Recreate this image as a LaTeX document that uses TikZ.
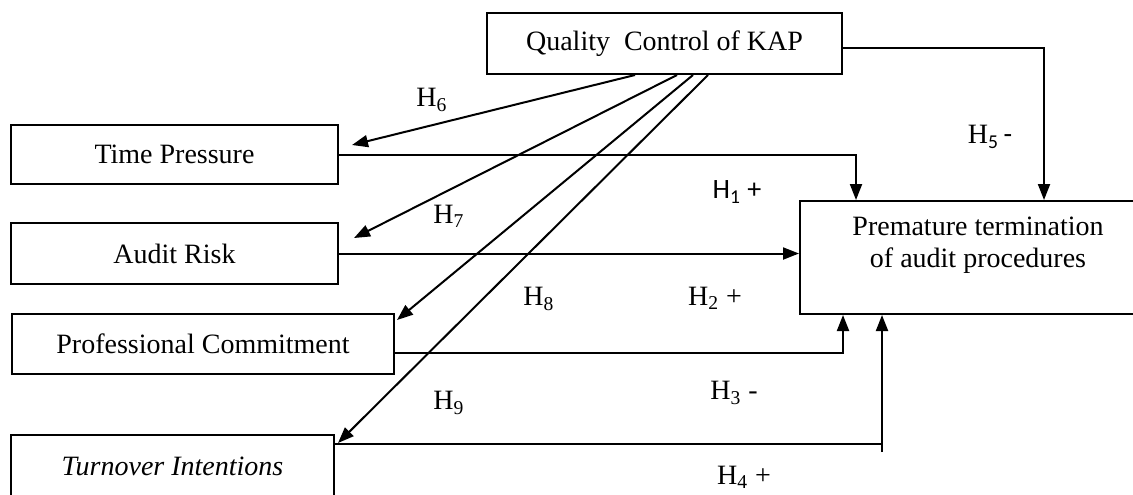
\documentclass[tikz,border=0pt]{standalone}
\usepackage{fontspec}
\setmainfont{Liberation Serif}
\newfontfamily\calibri{Carlito}
\usetikzlibrary{arrows.meta,positioning}

\begin{document}
\begin{tikzpicture}[x=0.5pt,y=-0.5pt,font=\fontsize{14}{16}\selectfont,
  box/.style={draw,line width=1pt,anchor=north west,inner sep=0pt},
  arr/.style={-{Triangle[length=8pt,width=6pt]},line width=1pt},
  lnk/.style={line width=1pt}]
\useasboundingbox (0,0) rectangle (1133,494);
% boxes
\node[box,minimum width=177.5pt,minimum height=30.5pt] (qc) at (486,12) {Quality\ \ Control of KAP};
\node[box,minimum width=163.5pt,minimum height=29.5pt] (tp) at (10,124) {Time Pressure};
\node[box,minimum width=163.5pt,minimum height=30.5pt] (ar) at (10,222) {Audit Risk};
\node[box,minimum width=191pt,minimum height=30pt] (pc) at (11,313) {Professional Commitment};
\node[box,minimum width=161.5pt,minimum height=31.5pt] (ti) at (10,434) {\textit{Turnover Intentions}};
\node[box,minimum width=178pt,minimum height=56.5pt] (pt) at (799,200) {};
\node[align=center] (ptlabel) at ([yshift=6pt]pt.center) {Premature termination\\of audit procedures};
% moderating paths
\draw[arr] ([xshift=74.5pt]qc.south west) -- ([xshift=6.5pt,yshift=-10.5pt]tp.north east);
\draw[arr] ([xshift=95.5pt]qc.south west) -- ([xshift=7.5pt,yshift=-8pt]ar.north east);
\draw[arr] ([xshift=103.5pt]qc.south west) -- ([xshift=1pt,yshift=-3.5pt]pc.north east);
\draw[arr] ([xshift=111pt]qc.south west) -- ([xshift=1.5pt,yshift=-4.5pt]ti.north east);
% direct paths
\draw[arr] (tp.east) -| ([xshift=28.5pt]pt.north west);
\draw[arr] ([yshift=-2pt]qc.east) -| ([xshift=122.5pt]pt.north west);
\draw[arr] (ar.east) -- (ar.east -| pt.west);
\draw[arr] ([yshift=-4.5pt]pc.east) -| ([xshift=22pt]pt.south west);
\coordinate (tifoot) at (882,452);
\draw[lnk] ([yshift=-5pt]ti.north east) -- ([yshift=-5pt]ti.north east -| tifoot);
\draw[arr] (tifoot) -- (tifoot |- pt.south);
% labels
\node (h6) at (432,100) {H\textsubscript{6}};
\node (h7) at (449,216) {H\textsubscript{7}};
\node (h8) at (539,299) {H\textsubscript{8}};
\node (h9) at (449,403) {H\textsubscript{9}};
\node (h1) at (737,192) {\calibri H\textsubscript{1} +};
\node (h5) at (990,137) {H\textsubscript{\calibri 5}\,{\calibri -}};
\node (h2) at (715,298) {H\textsubscript{2} +};
\node (h3) at (734,393) {H\textsubscript{3} -};
\node (h4) at (744,477) {H\textsubscript{4} +};
\end{tikzpicture}
\end{document}
